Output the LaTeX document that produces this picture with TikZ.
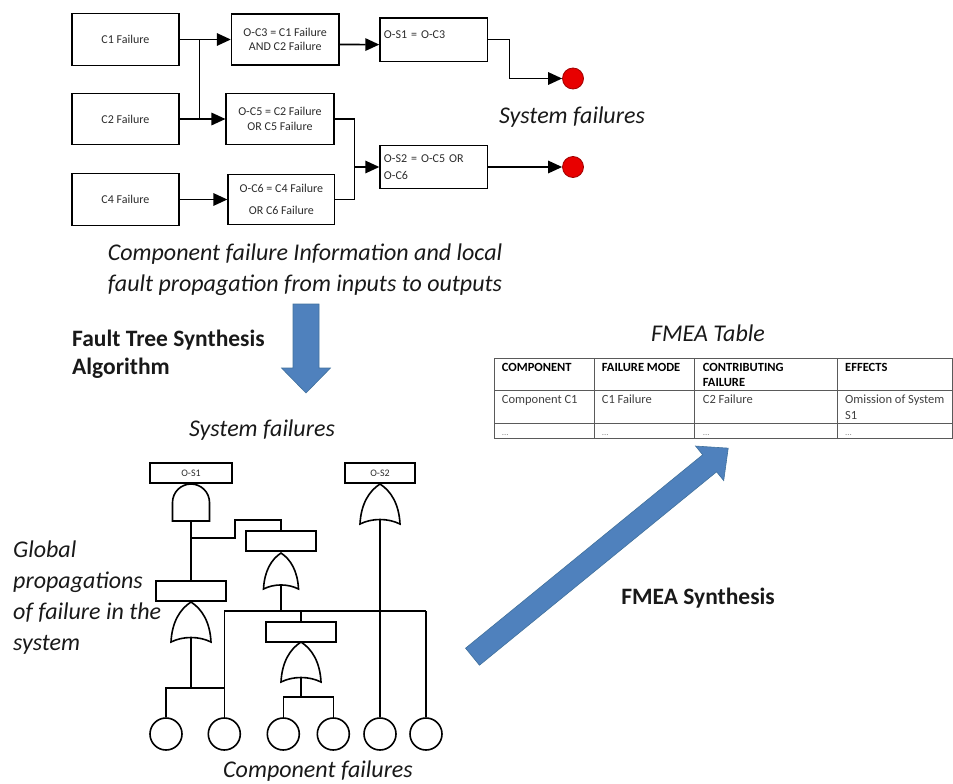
\documentclass[tikz,border=0pt]{standalone}
\usepackage{fontspec}
\setmainfont{Carlito}
\usetikzlibrary{arrows.meta,calc}
\definecolor{arrowblue}{HTML}{4F81BD}
\definecolor{arrowedge}{HTML}{41719C}
\definecolor{dotred}{HTML}{E80000}
\definecolor{dotedge}{HTML}{A00000}
\definecolor{boxtext}{HTML}{2B2B2B}
\definecolor{rowtext}{HTML}{404040}
\definecolor{tableline}{HTML}{5A5A5A}
\tikzset{
  gate/.style={draw=black, line width=1.6pt, fill=white, line join=miter},
  pics/orgate/.style={code={
    \draw[gate] (-20,40) .. controls (-19,20) and (-11,7) .. (0,0)
      .. controls (11,7) and (19,20) .. (20,40)
      .. controls (8,34) and (-8,34) .. (-20,40) -- cycle;
    \coordinate (-in) at (0,35.5);
  }},
  pics/andgate/.style={code={
    \draw[gate] (-18.5,37) -- (-18.5,18.5) arc[start angle=180,end angle=0,radius=18.5pt] -- (18.5,37) -- cycle;
    \coordinate (-in) at (0,37);
  }},
}
\begin{document}
\begin{tikzpicture}[x=1pt,y=-1pt,
  fbox/.style={draw=black, line width=1.3pt, rectangle, inner sep=0pt,
    font=\fontsize{12}{14.5}\selectfont, text=boxtext, align=center},
  wire/.style={line width=1.6pt, line join=miter},
  arr/.style={wire, -{Triangle[length=14pt,width=12.5pt]}},
  reddot/.style={circle, fill=dotred, draw=dotedge, line width=0.8pt, minimum size=21pt, inner sep=0pt},
  bigit/.style={font=\fontsize{24}{31}\selectfont\itshape, text=black!90, inner sep=0pt},
  bigbf/.style={font=\fontsize{23.5}{28.5}\selectfont\bfseries, text=black!90, inner sep=0pt},
  ftbox/.style={draw=black, line width=1.6pt, rectangle, inner sep=0pt, minimum height=20pt,
    font=\fontsize{10}{12}\selectfont, text=boxtext},
  ftw/.style={line width=1.6pt},
  leaf/.style={circle, draw=black, line width=1.6pt, minimum size=32pt, inner sep=0pt},
  bluearrow/.style={fill=arrowblue, draw=arrowedge, line width=0.6pt, line join=miter},
  th/.style={font=\fontsize{12.5}{15}\selectfont\bfseries, text=black, inner sep=0pt, anchor=base west},
  td/.style={font=\fontsize{12.5}{15}\selectfont, text=rowtext, inner sep=0pt, anchor=base west},
  tdots/.style={font=\fontsize{9}{10}\selectfont, text=black!45, inner sep=0pt, anchor=base west},
  tline/.style={draw=tableline, line width=0.9pt},
]
\useasboundingbox (0,0) rectangle (953,784);

% ---------------- top block diagram ----------------
\node[fbox, minimum width=107pt, minimum height=51.6pt] (c1) at (125.4,39.5) {C1 Failure};
\node[fbox, minimum width=107pt, minimum height=51pt] (c2) at (125.4,119) {C2 Failure};
\node[fbox, minimum width=107pt, minimum height=51.6pt] (c4) at (125.4,199.5) {C4 Failure};
\node[fbox, minimum width=107.5pt, minimum height=51pt] (oc3) at (285.2,39.5) {O-C3 = C1 Failure\\AND C2 Failure};
\node[fbox, minimum width=107.8pt, minimum height=51.6pt] (oc5) at (280,119) {O-C5 = C2 Failure\\OR C5 Failure};
\node[fbox, minimum width=106.8pt, minimum height=50.5pt] (oc6) at (281.4,199.5) {O-C6 = C4 Failure\\[7.5pt]OR C6 Failure};
\node[fbox, minimum width=107.7pt, minimum height=43.4pt, text width=99.7pt, align=left] (os1) at (433.8,39.6) {\raisebox{5pt}[\height][\depth]{O-S1 = O-C3}};
\node[fbox, minimum width=107.7pt, minimum height=43.4pt, text width=99.7pt, align=left] (os2) at (433.8,167) {O-S2 = O-C5 OR\\[2.5pt]O-C6};
\node[reddot] (r1) at (573,78.5) {};
\node[reddot] (r2) at (573,167) {};

\coordinate (j1) at (199.5,39.5);
\coordinate (j2) at (199.5,119);
\coordinate (m) at (354.4,167);
\coordinate (t1) at (509.4,78.5);

\draw[arr] (c1.east) -- (oc3.west);
\draw[arr] (c2.east) -- (oc5.west);
\draw[wire] (j1) -- (j2);
\draw[arr] (c4.east) -- (oc6.west);
\draw[arr] ([yshift=-5pt]oc3.east) -- ([yshift=-5pt]os1.west);
\draw[wire] (oc5.east) -| (m);
\draw[wire] (oc6.east) -| (m);
\draw[arr] (m) -- (os2.west);
\draw[arr] (os1.east) -| (t1) -- (r1.west);
\draw[arr] (os2.east) -- (r2.west);

\node[bigit] (tsys) at (572,117) {System failures};
\node[bigit, align=center] (tinfo) at (305,269.5) {Component failure Information and local\\fault propagation from inputs to outputs};

% ---------------- synthesis arrow ----------------
\filldraw[bluearrow] (293,304) -- (319,304) -- (319,368) -- (330.5,368) -- (306,393) -- (281.5,368) -- (293,368) -- cycle;
\node[bigbf, align=left, anchor=west] (talg) at (72,354) {Fault Tree Synthesis\\Algorithm};

% ---------------- fault tree ----------------
\node[bigit] (tsys2) at (262,430) {System failures};
\node[ftbox, minimum width=82pt] (fs1) at (191,473) {O-S1};
\pic (and1) at (191,484) {andgate};
\node[ftbox, minimum width=70pt] (fb2) at (191,591) {};
\pic (or1) at (191,602) {orgate};
\node[ftbox, minimum width=70pt] (fb3) at (281,541) {};
\pic[xscale=0.875, yscale=0.9] (or2) at (281,553) {orgate};
\node[ftbox, minimum width=70pt] (fb4) at (301,632) {};
\pic (or3) at (301,642) {orgate};
\node[ftbox, minimum width=70pt] (fs2) at (380,473) {O-S2};
\pic (or4) at (380,484) {orgate};

\node[leaf] (e1) at (166,734) {};
\node[leaf] (e2) at (224.3,734) {};
\node[leaf] (e3) at (283.3,734) {};
\node[leaf] (e4) at (333.3,734) {};
\node[leaf] (e5) at (380,734) {};
\node[leaf] (e6) at (426,734) {};

\coordinate (b1) at (191,538);
\coordinate (b2) at (235,520);
\coordinate (h1) at (224.3,611);
\coordinate (h2) at (426,611);
\coordinate (l1) at (224.3,688);
\coordinate (l2) at (333.3,697);

\draw[ftw] (and1-in) -- (fb2.north);
\draw[ftw] (b1) -| (b2) -| (fb3.north);
\draw[ftw] (h1) -- (h2);
\draw[ftw] (or2-in) -- (or2-in |- h1);
\draw[ftw] (fb4.north) -- (fb4.north |- h1);
\draw[ftw] (or1-in) -- (or1-in |- l1);
\draw[ftw] (e1.north) |- (l1);
\draw[ftw] (e2.north) -- (h1);
\draw[ftw] (or3-in) -- (or3-in |- l2);
\draw[ftw] (e3.north) |- (l2) -- (e4.north);
\draw[ftw] (or4-in) -- (e5.north);
\draw[ftw] (h2) -- (e6.north);

\node[bigit, align=left, anchor=west] (tglob) at (13,597.5) {Global\\propagations\\of failure in the\\system};
\node[bigit] (tcomp) at (318,771) {Component failures};

% ---------------- FMEA ----------------
\begin{scope}[shift={(472.5,656.7)}, rotate=39.2]
  \filldraw[bluearrow] (0,-11) -- (306,-11) -- (306,-22.3) -- (330,0) -- (306,22.3) -- (306,11) -- (0,11) -- cycle;
\end{scope}
\node[bigbf] (tsyn) at (698,598) {FMEA Synthesis};

\node[bigit] (tfmea) at (708,333) {FMEA Table};
\draw[tline] (494,358.3) rectangle (952.4,438.3);
\draw[tline] (494,390.7) -- (952.4,390.7);
\draw[tline] (494,423.3) -- (952.4,423.3);
\draw[tline] (594,358.3) -- (594,438.3);
\draw[tline] (694.3,358.3) -- (694.3,438.3);
\draw[tline] (837.7,358.3) -- (837.7,438.3);

\node[th] (h1a) at (501.7,371) {COMPONENT};
\node[th] (h2a) at (601.7,371) {FAILURE MODE};
\node[th] (h3a) at (702.7,371) {CONTRIBUTING};
\node[th] (h3b) at (702.7,386) {FAILURE};
\node[th] (h4a) at (845,371) {EFFECTS};
\node[td] (d1) at (501.7,403.5) {Component C1};
\node[td] (d2) at (601.7,403.5) {C1 Failure};
\node[td] (d3) at (702.7,403.5) {C2 Failure};
\node[td] (d4a) at (845,403.5) {Omission of System};
\node[td] (d4b) at (845,419) {S1};
\node[tdots] (x1) at (501.7,435) {...};
\node[tdots] (x2) at (601.7,435) {...};
\node[tdots] (x3) at (702.7,435) {...};
\node[tdots] (x4) at (845,435) {...};
\end{tikzpicture}
\end{document}
